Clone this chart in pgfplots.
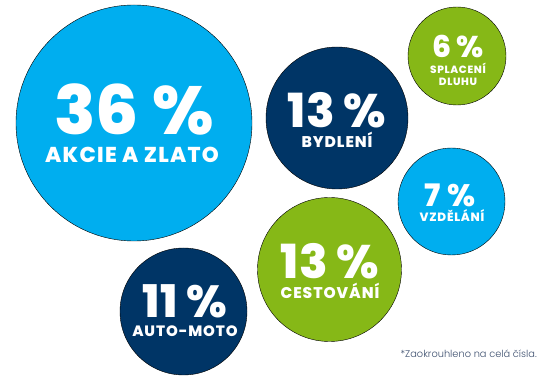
\documentclass[border=0pt]{standalone}
\usepackage{pgfplots}
\pgfplotsset{compat=1.18}
\usepackage{pgfplotstable}
\usepackage{fontspec}
\setmainfont{Poppins}[BoldFont={Poppins ExtraBold}]
\newfontfamily\lightf{Poppins Light}
\definecolor{lb}{HTML}{00AEEF}
\definecolor{nv}{HTML}{003566}
\definecolor{gr}{HTML}{86B817}
\definecolor{fn}{HTML}{3D4F6E}
\tikzset{lab/.style={text=white,inner sep=0pt,anchor=base}}
\newcommand{\bigpc}[1]{\fontsize{#1}{#1}\bfseries}
\newcommand{\smlab}[1]{\fontsize{#1}{#1}\bfseries\addfontfeatures{LetterSpace=6}}
\pgfplotstableread{
x y r c
134 123 118 a
337 118 71 b
457 56 49 c
451.5 201.5 53.5 a
329.5 269.5 72 c
183.5 311.5 63.5 b
}\bubbles
\begin{document}
\begin{tikzpicture}
\begin{axis}[
  width=555pt, height=380pt, scale only axis,
  xmin=0, xmax=555, ymin=0, ymax=380, y dir=reverse,
  hide axis, clip=false, set layers,
]
\addplot[scatter, only marks, mark=*, mark options={draw=none},
  scatter src=explicit symbolic,
  scatter/classes={a={mark=*,draw=none,fill=lb},b={mark=*,draw=none,fill=nv},c={mark=*,draw=none,fill=gr}},
  visualization depends on={\thisrow{r}\as\rad},
  scatter/@pre marker code/.append style={/tikz/mark size=\rad},
] table[x=x,y=y,meta=c]{\bubbles};
\path (axis cs:0,0) rectangle (axis cs:555,380);
\begin{pgfonlayer}{axis foreground}
% 36
\node[lab,font=\bigpc{68}] at (axis cs:134,135) {36 \%};
\node[lab,font=\smlab{21.5}] at (axis cs:132,163) {AKCIE A ZLATO};
% 13 bydleni
\node[lab,font=\bigpc{47}] at (axis cs:337,128) {13 \%};
\node[lab,font=\smlab{15.5}] at (axis cs:337,148) {BYDLENÍ};
% 6
\node[lab,font=\bigpc{30}] at (axis cs:458,58) {6 \%};
\node[lab,font=\smlab{10.5}] at (axis cs:458,74) {SPLACENÍ};
\node[lab,font=\smlab{10.5}] at (axis cs:458,86) {DLUHU};
% 7
\node[lab,font=\bigpc{31}] at (axis cs:450,207) {7 \%};
\node[lab,font=\smlab{12}] at (axis cs:452,222) {VZDĚLÁNÍ};
% 13 cestovani
\node[lab,font=\bigpc{47}] at (axis cs:330,279) {13 \%};
\node[lab,font=\smlab{15.5}] at (axis cs:330,299) {CESTOVÁNÍ};
% 11
\node[lab,font=\bigpc{45}] at (axis cs:185,318) {11 \%};
\node[lab,font=\smlab{15}] at (axis cs:185,337) {AUTO-MOTO};
% footnote
\node[anchor=base east,inner sep=0pt,text=fn,font=\lightf\fontsize{9.8}{9.8}\selectfont] at (axis cs:537,358) {*Zaokrouhleno na celá čísla.};
\end{pgfonlayer}
\end{axis}
\end{tikzpicture}
\end{document}
